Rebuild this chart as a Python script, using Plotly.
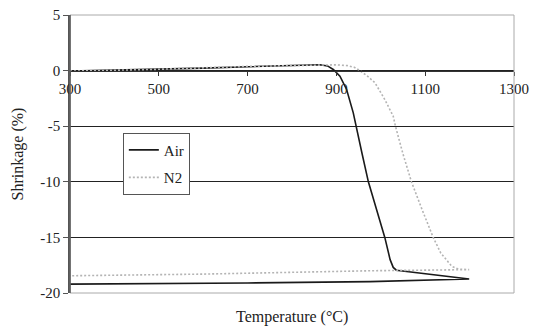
import plotly.graph_objects as go

# Air: heating then cooling (return line)
air_temp = [300, 400, 500, 600, 700, 800, 863, 880, 893, 908, 923, 938, 944, 958, 972,
            990, 1009, 1021, 1028, 1035, 1199, 976, 700, 300]
air_shrink = [-0.05, 0.02, 0.1, 0.22, 0.35, 0.47, 0.52, 0.42, 0.1, -0.5, -1.7, -3.8, -5.0, -7.5, -10.0,
              -12.5, -15.0, -17.0, -17.7, -17.95, -18.74, -18.98, -19.1, -19.2]

# N2: heating then cooling (return line)
n2_temp = [300, 500, 700, 850, 900, 925, 940, 953, 970, 987, 1009, 1028, 1033, 1050, 1069,
           1093, 1118, 1135, 1148, 1160, 1175, 1199, 976, 600, 300]
n2_shrink = [-0.05, 0.12, 0.38, 0.5, 0.52, 0.45, 0.3, 0.0, -0.5, -1.1, -2.6, -4.1, -5.0, -7.5, -10.0,
             -12.5, -15.0, -16.4, -17.0, -17.6, -17.85, -17.9, -18.0, -18.3, -18.45]

x_ticks = [300, 500, 700, 900, 1100, 1300]
y_ticks = [5, 0, -5, -10, -15, -20]
y_tick_text = ["5", "0", "-5", "-10", "-15", "-20"]

FONT = "Liberation Serif"

fig = go.Figure()
fig.add_trace(go.Scatter(x=air_temp, y=air_shrink, mode="lines", name="Air",
                         legendgroup="a",
                         line=dict(color="#1a1a1a", width=1.6)))
fig.add_trace(go.Scatter(x=n2_temp, y=n2_shrink, mode="lines", name="N2",
                         legendgroup="b",
                         line=dict(color="#b4b4b4", width=1.6, dash="2px,2px")))

fig.update_layout(
    width=536, height=326,
    margin=dict(l=70, r=22, t=15, b=33),
    paper_bgcolor="white", plot_bgcolor="white",
    font=dict(family=FONT, size=15, color="#222"),
    showlegend=True,
    legend=dict(x=0.119, y=0.577, xanchor="left", yanchor="top",
                bgcolor="white", bordercolor="#555", borderwidth=1,
                font=dict(family=FONT, size=15, color="#222"),
                tracegroupgap=5, itemwidth=30),
    xaxis=dict(range=[300, 1300], tickvals=x_ticks, showgrid=False, zeroline=False,
               anchor="free", position=0.8, automargin=False,
               showline=True, linecolor="#333", linewidth=1.3,
               ticks="outside", ticklen=4, tickcolor="#333",
               tickfont=dict(family=FONT, size=15, color="#222")),
    yaxis=dict(range=[-20, 5], tickvals=y_ticks, ticktext=y_tick_text, automargin=False,
               showgrid=True, gridcolor="#222", gridwidth=1, zeroline=False,
               showline=True, linecolor="#555", linewidth=1.5,
               ticks="outside", ticklen=5, tickcolor="#555",
               tickfont=dict(family=FONT, size=15, color="#222"),
               title=dict(text="Shrinkage (%)", font=dict(family=FONT, size=16, color="#222"),
                          standoff=13)),
    shapes=[dict(type="rect", xref="x domain", yref="y domain", x0=0, x1=1, y0=0, y1=1,
                 line=dict(color="#aaa", width=1), layer="above")],
    annotations=[dict(text="Temperature (°C)", xref="paper", yref="paper", x=0.5, y=-0.085,
                      xanchor="center", yanchor="middle", showarrow=False,
                      font=dict(family=FONT, size=16, color="#222"))],
)
fig.add_shape(type="line", xref="x domain", yref="y domain", x0=0, x1=0, y0=0, y1=1,
              line=dict(color="#555", width=1.5), layer="above")

fig.write_html("out.html", config={"displayModeBar": False},
               post_script="document.body.style.margin='0';document.body.style.overflow='hidden';")
